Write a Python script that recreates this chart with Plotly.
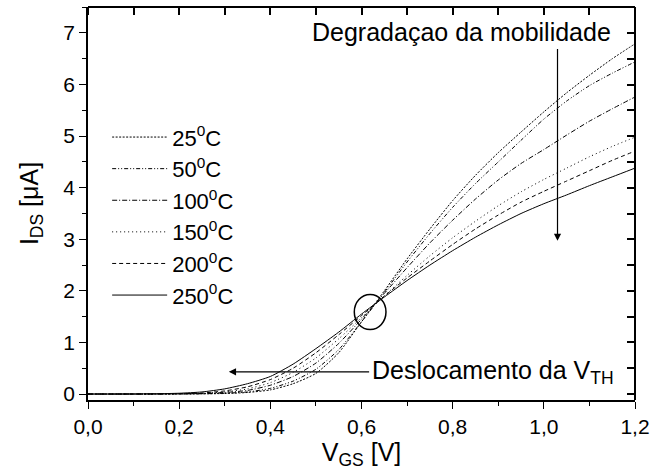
import plotly.graph_objects as go

# Gate voltage sweep (V)
vgs = [0.00, 0.05, 0.10, 0.15, 0.20, 0.25, 0.30, 0.35, 0.40, 0.45, 0.50, 0.55,
       0.60, 0.65, 0.70, 0.75, 0.80, 0.85, 0.90, 0.95, 1.00, 1.05, 1.10, 1.15, 1.20]

# Drain current (uA) for each temperature
ids_25 = [0, 0, 0, 0, 0.001, 0.003, 0.01, 0.03, 0.08, 0.20, 0.40, 0.80,
          1.40, 2.00, 2.62, 3.20, 3.75, 4.24, 4.68, 5.08, 5.47, 5.84, 6.18, 6.50, 6.79]
ids_50 = [0, 0, 0, 0, 0.002, 0.005, 0.015, 0.04, 0.11, 0.25, 0.48, 0.86,
          1.40, 1.97, 2.56, 3.11, 3.62, 4.08, 4.50, 4.92, 5.33, 5.68, 5.98, 6.22, 6.44]
ids_100 = [0, 0, 0, 0.001, 0.003, 0.01, 0.03, 0.07, 0.17, 0.34, 0.60, 0.98,
           1.45, 1.95, 2.45, 2.93, 3.37, 3.78, 4.15, 4.47, 4.74, 5.02, 5.29, 5.53, 5.76]
ids_150 = [0, 0, 0, 0.001, 0.004, 0.012, 0.04, 0.10, 0.22, 0.42, 0.70, 1.07,
           1.48, 1.90, 2.30, 2.68, 3.03, 3.35, 3.65, 3.92, 4.16, 4.38, 4.60, 4.80, 4.98]
ids_200 = [0, 0, 0, 0.002, 0.006, 0.02, 0.06, 0.14, 0.28, 0.50, 0.80, 1.15,
           1.52, 1.90, 2.25, 2.58, 2.90, 3.20, 3.47, 3.72, 3.93, 4.13, 4.33, 4.53, 4.71]
ids_250 = [0, 0, 0.001, 0.005, 0.015, 0.04, 0.10, 0.20, 0.34, 0.58, 0.88, 1.20,
           1.55, 1.88, 2.20, 2.50, 2.78, 3.04, 3.28, 3.50, 3.69, 3.86, 4.04, 4.21, 4.38]

labels = ["25<sup>0</sup>C", "50<sup>0</sup>C", "100<sup>0</sup>C",
          "150<sup>0</sup>C", "200<sup>0</sup>C", "250<sup>0</sup>C"]
series = [ids_25, ids_50, ids_100, ids_150, ids_200, ids_250]
dashes = ["2px,1.5px", "4px,2px,1px,2px,1px,2px", "5px,2px,1px,2px",
          "1px,3px", "4px,3px", "solid"]

FONT = "Liberation Sans, Arial, sans-serif"

x_range = [0, 1.2]
y_range = [-0.116, 7.504]

fig = go.Figure()
for i, (lab, ys, dash) in enumerate(zip(labels, series, dashes)):
    fig.add_trace(go.Scatter(
        x=vgs, y=ys, mode="lines", name=lab, legendgroup=str(i),
        line=dict(color="black", width=1, dash=dash, shape="spline", smoothing=0.6),
    ))

# transparent trace spanning the frame so the top/right frame axes get drawn
fig.add_trace(go.Scatter(x=x_range, y=y_range, xaxis="x2", yaxis="y2", mode="lines",
                         line=dict(color="rgba(0,0,0,0)", width=0),
                         showlegend=False, hoverinfo="skip"))

axis_common = dict(showline=True, linecolor="black", linewidth=1.5, showgrid=False,
                   zeroline=False, tickcolor="black", tickwidth=1.3,
                   tickfont=dict(family=FONT, size=21, color="black"))

frame_common = dict(tickmode="linear", tick0=0, ticks="outside", ticklen=7,
                    showticklabels=False, showline=True, linecolor="black",
                    linewidth=1.5, showgrid=False, zeroline=False,
                    tickcolor="black", tickwidth=1.5)

fig.update_layout(
    width=657, height=474,
    margin=dict(l=88, r=17, t=7, b=74),
    plot_bgcolor="white", paper_bgcolor="white",
    separators=",.",
    showlegend=True,
    legend=dict(x=0.035, y=0.722, xanchor="left", yanchor="top",
                bgcolor="rgba(0,0,0,0)", itemwidth=55, tracegroupgap=0,
                font=dict(family=FONT, size=22, color="black")),
    xaxis=dict(range=x_range, dtick=0.2, tick0=0, tickformat=".1f",
               ticks="outside", ticklen=7,
               minor=dict(dtick=0.1, ticks="outside", ticklen=4, tickcolor="black"),
               title=dict(text="V<sub>GS</sub> [V]", standoff=2,
                          font=dict(family=FONT, size=25, color="black")),
               **axis_common),
    yaxis=dict(range=y_range, dtick=1, tick0=0, ticks="outside", ticklen=7,
               minor=dict(dtick=0.5, ticks="outside", ticklen=4, tickcolor="black"),
               title=dict(text="I<sub>DS</sub> [μA]", standoff=18,
                          font=dict(family=FONT, size=25, color="black")),
               **axis_common),
    # frame axes: placed on the top and right edges, ticks pointing into the plot
    xaxis2=dict(overlaying="x", side="bottom", anchor="free", position=1,
                range=x_range, dtick=0.1, **frame_common),
    yaxis2=dict(overlaying="y", side="left", anchor="free", position=1,
                range=y_range, dtick=0.5, **frame_common),
)

# circle around the common crossing point
fig.add_shape(type="circle", xref="x", yref="y",
              x0=0.5842, x1=0.6537, y0=1.25, y1=1.93,
              line=dict(color="black", width=1.5))

# mobility degradation arrow (downwards)
fig.add_annotation(x=1.03, y=2.97, ax=1.03, ay=6.72, xref="x", yref="y",
                   axref="x", ayref="y", text="", showarrow=True,
                   arrowhead=2, arrowsize=1.2, arrowwidth=1.2, arrowcolor="black")
fig.add_annotation(x=1.152, y=7.02, xref="x", yref="y", xanchor="right",
                   yanchor="middle", text="Degradaçao da mobilidade", showarrow=False,
                   font=dict(family=FONT, size=25, color="black"))

# threshold shift arrow (leftwards)
fig.add_annotation(x=0.309, y=0.43, ax=0.62, ay=0.43, xref="x", yref="y",
                   axref="x", ayref="y", text="", showarrow=True,
                   arrowhead=2, arrowsize=1.2, arrowwidth=1.2, arrowcolor="black")
fig.add_annotation(x=0.619, y=0.43, xref="x", yref="y", xanchor="left",
                   yanchor="middle", text="Deslocamento da V<sub>TH</sub>", showarrow=False,
                   font=dict(family=FONT, size=25, color="black"))

fig.write_html("out.html")
